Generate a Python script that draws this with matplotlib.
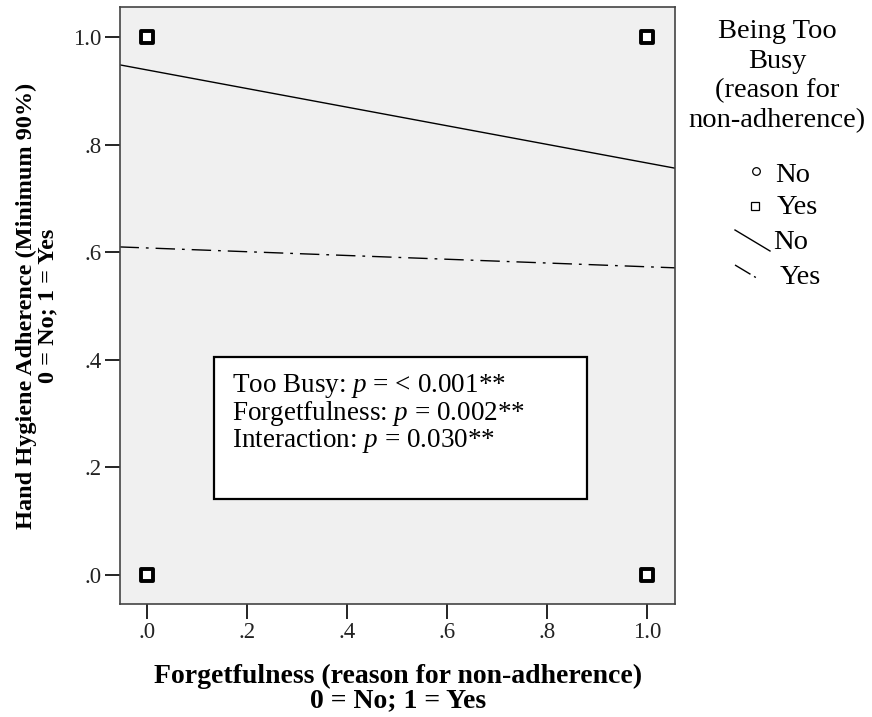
import numpy as np
import matplotlib.pyplot as plt
from matplotlib.lines import Line2D
from matplotlib.patches import Rectangle

# данные: точки наблюдений (забывчивость, соблюдение)
busy_no_x = [0, 1, 0, 1]
busy_no_y = [1, 1, 0, 0]
busy_yes_x = [0, 1, 0, 1]
busy_yes_y = [1, 1, 0, 0]

# линии подгонки: значения при x = 0 и x = 1
fit_no = [0.939, 0.766]
fit_yes = [0.608, 0.573]

tick_vals = [0, 0.2, 0.4, 0.6, 0.8, 1.0]
tick_labels = [".0", ".2", ".4", ".6", ".8", "1.0"]

p_lines = ["Too Busy: $p$ = < 0.001**",
           "Forgetfulness: $p$ = 0.002**",
           "Interaction: $p$ = 0.030**"]

plt.rcParams['font.family'] = ['Liberation Serif', 'DejaVu Serif']
plt.rcParams['mathtext.fontset'] = 'custom'
plt.rcParams['mathtext.it'] = 'Liberation Serif:italic'
plt.rcParams['mathtext.rm'] = 'Liberation Serif'

fig = plt.figure(figsize=(8.72, 7.17), dpi=100)
W, H = 872, 717


def fx(px):
    return px / W


def fy(py):
    return 1 - py / H


ax = fig.add_axes([fx(119.5), fy(604), (675 - 119.5) / W, (604 - 7) / H])
ax.set_facecolor('#f0f0f0')
xlim = (-0.055, 1.056)
ax.set_xlim(*xlim)
ax.set_ylim(-0.054, 1.056)

# линии подгонки через весь диапазон оси
xs = np.array(xlim)
for vals, ls in [(fit_no, '-'), (fit_yes, (0, (14, 5, 2, 5)))]:
    slope = vals[1] - vals[0]
    ax.plot(xs, vals[0] + slope * xs, color='black', lw=1.0, linestyle=ls)

ax.scatter(busy_yes_x, busy_yes_y, marker='s', s=70, facecolor='white',
           edgecolor='black', linewidth=2.8, zorder=3)
ax.scatter(busy_no_x, busy_no_y, marker='o', s=10, facecolor='white',
           edgecolor='white', linewidth=0.5, zorder=4)

ax.set_xticks(tick_vals)
ax.set_xticklabels(tick_labels)
ax.set_yticks(tick_vals)
ax.set_yticklabels(tick_labels)
ax.tick_params(length=11, width=1.2, labelsize=16.5, colors='black',
               labelcolor='#222222', pad=2)
for s in ax.spines.values():
    s.set_color('#444444')
    s.set_linewidth(1.2)

# подписи осей
fig.text(fx(398), fy(676), "Forgetfulness (reason for non-adherence)",
         ha='center', va='center', fontsize=20, fontweight='bold')
fig.text(fx(398), fy(701), "0 = No; 1 = Yes",
         ha='center', va='center', fontsize=20, fontweight='bold')
fig.text(fx(26), fy(306), "Hand Hygiene Adherence (Minimum 90%)",
         ha='center', va='center', rotation=90, fontsize=17.5,
         fontweight='bold')
fig.text(fx(48), fy(306), "0 = No; 1 = Yes",
         ha='center', va='center', rotation=90, fontsize=17.5,
         fontweight='bold')

# текстовый блок со значениями p
ax.add_patch(Rectangle(((214 - 119.5) / 555.5, (604 - 499) / 597),
                       373 / 555.5, 142 / 597, transform=ax.transAxes,
                       facecolor='white', edgecolor='black', lw=1.6,
                       zorder=5))
for i, line in enumerate(p_lines):
    fig.text(fx(232), fy(386 + 27.5 * i), line, ha='left', va='center',
             fontsize=19.5, zorder=6)

# легенда справа
title_lines = ["Being Too", "Busy", "(reason for", "non-adherence)"]
for i, line in enumerate(title_lines):
    fig.text(fx(777), fy(32 + 29.5 * i), line, ha='center', va='center',
             fontsize=20.5)
for label, xp, yp in [("No", 775, 175), ("Yes", 777, 207),
                      ("No", 773, 243), ("Yes", 780, 278)]:
    fig.text(fx(xp), fy(yp), label, ha='left', va='center', fontsize=20.5)
fig.add_artist(Line2D([fx(756)], [fy(171)], marker='o', markersize=5.5,
                      markerfacecolor='white', markeredgecolor='black',
                      markeredgewidth=0.9, linestyle='none'))
fig.add_artist(Line2D([fx(755)], [fy(206)], marker='s', markersize=6,
                      markerfacecolor='white', markeredgecolor='black',
                      markeredgewidth=0.9, linestyle='none'))
fig.add_artist(Line2D([fx(735), fx(770)], [fy(230), fy(251)],
                      color='black', lw=1.0))
fig.add_artist(Line2D([fx(735), fx(760)], [fy(265), fy(280)],
                      color='black', lw=1.0, linestyle=(0, (13, 3, 1.5, 8))))

fig.savefig("out.png", dpi=100)
